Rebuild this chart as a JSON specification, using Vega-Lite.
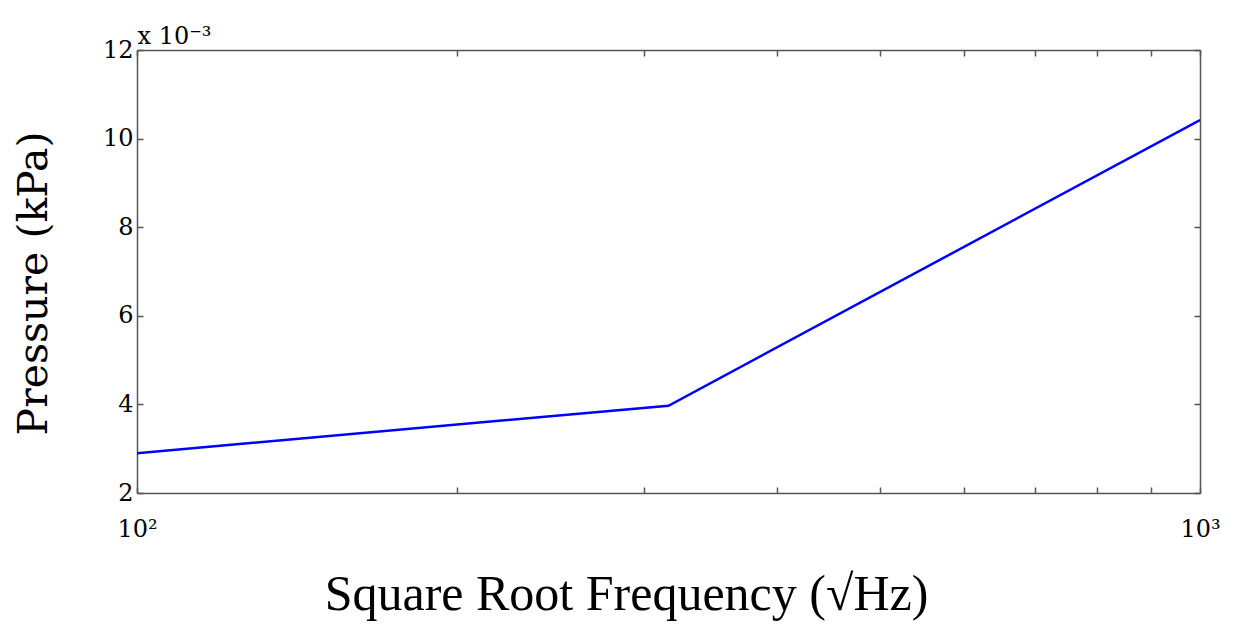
{
  "$schema": "https://vega.github.io/schema/vega-lite/v6.json",
  "width": 1063,
  "height": 443,
  "autosize": {"type": "none"},
  "padding": {"left": 137, "top": 50, "right": 36, "bottom": 139},
  "background": "white",
  "config": {"view": {"stroke": null}, "axis": {"grid": false}},
  "data": {"values": [
    {"freq": 100, "pressure": 0.0029},
    {"freq": 316.2, "pressure": 0.00397},
    {"freq": 1000, "pressure": 0.01042}
  ]},
  "layer": [
    {
      "mark": {"type": "line", "color": "#0000ff", "strokeWidth": 2.5, "clip": true},
      "encoding": {
        "x": {"field": "freq", "type": "quantitative",
          "scale": {"type": "log", "domain": [100, 1000], "nice": false},
          "axis": {"orient": "bottom", "values": [100,200,300,400,500,600,700,800,900,1000],
            "labelExpr": "datum.value == 100 ? '10²' : datum.value == 1000 ? '10³' : ''",
            "labelFont": "DejaVu Serif", "labelFontSize": 24, "labelColor": "black",
            "labelPadding": 30, "labelFlush": false, "labelOverlap": false,
            "tickSize": -6, "tickColor": "#555", "tickWidth": 1.5,
            "domainColor": "#555", "domainWidth": 1.5,
            "title": "Square Root Frequency (√Hz)", "titleFont": "Liberation Serif",
            "titleFontSize": 50, "titleFontWeight": "normal", "titleColor": "black",
            "titleX": 489, "titleY": 116, "titleBaseline": "alphabetic", "titleAlign": "center"}},
        "y": {"field": "pressure", "type": "quantitative",
          "scale": {"domain": [0.002, 0.012], "nice": false},
          "axis": {"orient": "left", "values": [0.002,0.004,0.006,0.008,0.01,0.012],
            "labelExpr": "format(datum.value*1000, 'd')",
            "labelFont": "DejaVu Serif", "labelFontSize": 24, "labelColor": "black",
            "labelPadding": 10, "labelFlush": false,
            "tickSize": -6, "tickColor": "#555", "tickWidth": 1.5,
            "domainColor": "#555", "domainWidth": 1.5,
            "title": "Pressure (kPa)", "titleFont": "DejaVu Serif",
            "titleFontSize": 41, "titleFontWeight": "normal", "titleColor": "black",
            "titleX": -103, "titleY": 233, "titleAngle": -90,
            "titleAlign": "center", "titleBaseline": "middle"}}
      }
    },
    {
      "mark": {"type": "line", "opacity": 0},
      "encoding": {
        "x": {"field": "freq", "type": "quantitative",
          "scale": {"type": "log", "domain": [100, 1000], "nice": false},
          "axis": {"orient": "top", "values": [100,200,300,400,500,600,700,800,900,1000],
            "labels": false, "tickSize": -6, "tickColor": "#555", "tickWidth": 1.5,
            "domainColor": "#555", "domainWidth": 1.5,
            "title": "x 10⁻³", "titleFont": "DejaVu Serif", "titleFontSize": 24,
            "titleFontWeight": "normal", "titleColor": "black",
            "titleX": 0, "titleY": -7, "titleAlign": "left", "titleBaseline": "alphabetic"}},
        "y": {"field": "pressure", "type": "quantitative",
          "scale": {"domain": [0.002, 0.012], "nice": false},
          "axis": {"orient": "right", "values": [0.002,0.004,0.006,0.008,0.01,0.012],
            "labels": false, "tickSize": -6, "tickColor": "#555", "tickWidth": 1.5,
            "domainColor": "#555", "domainWidth": 1.5, "title": null}}
      }
    }
  ],
  "resolve": {"axis": {"x": "independent", "y": "independent"}}
}
